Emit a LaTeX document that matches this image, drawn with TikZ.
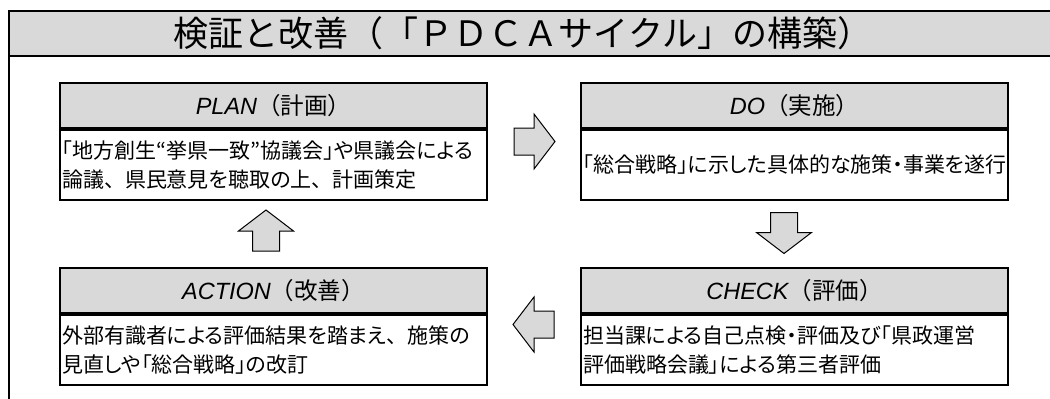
\documentclass[tikz,border=0pt]{standalone}
\usepackage{fontspec}
\newfontfamily\jp{Noto Sans CJK JP}
\newfontfamily\jpp[RawFeature=+palt]{Noto Sans CJK JP}
\newfontfamily\lat{Liberation Sans}
\newcommand\jpten{{\jp 、}}
\definecolor{band}{RGB}{217,217,217}
\tikzset{
  hd/.style={draw, line width=2pt, fill=band, minimum width=427pt, minimum height=45pt,
    anchor=north west, inner sep=0pt, font=\jp\fontsize{23.5}{26}\selectfont},
  bd/.style={draw, line width=2pt, fill=white, minimum width=427pt, minimum height=70pt,
    anchor=north west, inner xsep=2pt, inner ysep=0pt, text width=423pt, align=left,
    font=\jpp\fontsize{21}{29}\selectfont},
  arrowstyle/.style={draw, line width=1pt, fill=band, line join=miter},
  blockarrow/.pic={\path[arrowstyle] (0,-20.5) -- (27.5,0.5) -- (13.5,0.5) -- (13.5,20.5)
    -- (-13.5,20.5) -- (-13.5,0.5) -- (-27.5,0.5) -- cycle;}
}
\begin{document}
\begin{tikzpicture}[x=1pt,y=-1pt]
\useasboundingbox (0,0) rectangle (1050,399);
\clip (0,0) rectangle (1050,399);
% outer frame and title band
\draw[line width=2.5pt, fill=white] (9,11) rectangle (1070,420);
\draw[line width=2.5pt, fill=band] (9,11) rectangle (1070,56);
\node[font=\jp\fontsize{35}{35}\selectfont, inner sep=0pt] (title) at (523,33.5)
  {検証と改善（「ＰＤＣＡサイクル」の構築）};
% PLAN
\node[hd] (planh) at (59,82) {{\lat\itshape PLAN}（計画）};
\node[bd] (planb) at (planh.south west) {「地方創生“挙県一致”協議会」や県議会による\\論議\jpten 県民意見を聴取の上\jpten 計画策定};
% DO
\node[hd] (doh) at (580,82) {{\lat\itshape DO}（実施）};
\node[bd] (dob) at (doh.south west) {「総合戦略」に示した具体的な施策・事業を遂行};
% ACTION
\node[hd] (acth) at (59,267) {{\lat\itshape ACTION}（改善）};
\node[bd] (actb) at (acth.south west) {外部有識者による評価結果を踏まえ\jpten 施策の\\見直しや「総合戦略」の改訂};
% CHECK
\node[hd] (chkh) at (580,267) {{\lat\itshape CHECK}（評価）};
\node[bd] (chkb) at (chkh.south west) {担当課による自己点検・評価及び「県政運営\\評価戦略会議」による第三者評価};
% block arrows
\pic[rotate=-90] at (534.5,141.5) {blockarrow};
\pic[rotate=180] at (784,233) {blockarrow};
\pic[rotate=90] at (533.5,324.5) {blockarrow};
\pic at (266,230.5) {blockarrow};
\end{tikzpicture}
\end{document}
